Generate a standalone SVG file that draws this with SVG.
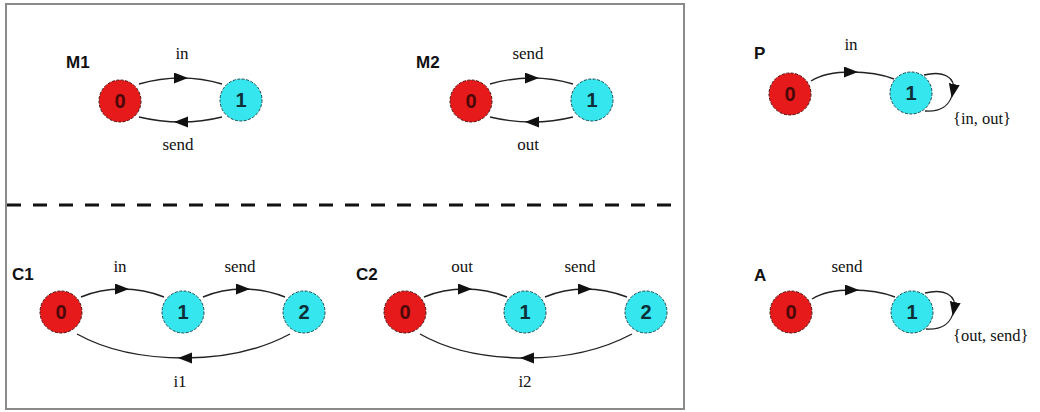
<svg xmlns="http://www.w3.org/2000/svg" width="1040" height="412" viewBox="0 0 1040 412">
  <defs>
    <marker id="arrow" markerUnits="userSpaceOnUse" markerWidth="15" markerHeight="12" refX="7" refY="5.5" orient="auto">
      <path d="M0,0 L14,5.5 L0,11 z" fill="#111"/>
    </marker>
  </defs>
  <style>
    .frame { fill: none; stroke: #8a8a8a; stroke-width: 2; }
    .divider { stroke: #111; stroke-width: 3; stroke-dasharray: 14 12; }
    .edge { fill: none; stroke: #222; stroke-width: 1.4; marker-mid: url(#arrow); }
    .s0 { fill: #e61a1a; stroke: #4a1010; stroke-width: 1; stroke-dasharray: 3 1.5; }
    .s1 { fill: #35e6ee; stroke: #1a4a50; stroke-width: 1; stroke-dasharray: 3 1.5; }
    .n0 { font-family: "Liberation Sans", Arial, sans-serif; font-weight: bold; font-size: 20px; fill: #4a0808; text-anchor: middle; }
    .n1 { font-family: "Liberation Sans", Arial, sans-serif; font-weight: bold; font-size: 20px; fill: #0c3038; text-anchor: middle; }
    .title { font-family: "Liberation Sans", Arial, sans-serif; font-weight: bold; font-size: 17px; fill: #111; }
    .lbl { font-family: "Liberation Serif", "Times New Roman", serif; font-size: 17px; fill: #111; text-anchor: middle; }
    .lbls { font-family: "Liberation Serif", "Times New Roman", serif; font-size: 16.5px; fill: #111; }
  </style>

  <rect width="1040" height="412" fill="#ffffff"/>

  <!-- framed panel and dashed separator -->
  <rect class="frame" x="6" y="4" width="678" height="405"/>
  <line class="divider" x1="7" y1="205" x2="682" y2="205"/>

  <!-- transitions -->
  <g id="connectors">
    <!-- M1 -->
    <path class="edge" d="M139,84 Q160,78 181,78 Q202,78 222,84"/>
    <path class="edge" d="M222,117 Q202,122 181,122 Q160,122 139,117"/>
    <!-- M2 -->
    <path class="edge" d="M490,84 Q511,78 532,78 Q553,78 573,84"/>
    <path class="edge" d="M573,117 Q553,122 532,122 Q511,122 490,117"/>
    <!-- P -->
    <path class="edge" d="M811,81 Q825,72 851,72 Q876,72 894,79"/>
    <path class="edge" d="M924,75 C944,70 956,78 953,91 C951,105 941,112 925,111"/>
    <!-- A -->
    <path class="edge" d="M812,299 Q826,290 852,290 Q877,290 895,297"/>
    <path class="edge" d="M925,293 C945,288 957,296 954,309 C952,323 942,330 926,329"/>
    <!-- C1 -->
    <path class="edge" d="M81,297 Q100,289 122,289 Q144,289 164,297"/>
    <path class="edge" d="M203,297 Q222,289 243,289 Q264,289 285,297"/>
    <path class="edge" d="M290,334 Q245,358 185,358 Q120,358 77,334"/>
    <!-- C2 -->
    <path class="edge" d="M424,297 Q443,289 465,289 Q487,289 507,297"/>
    <path class="edge" d="M545,297 Q564,289 585,289 Q606,289 627,297"/>
    <path class="edge" d="M632,334 Q587,358 527,358 Q462,358 420,334"/>
  </g>

  <!-- machine M1 -->
  <g id="M1">
    <text class="title" x="66" y="68">M1</text>
    <text class="lbl" x="182" y="59">in</text>
    <text class="lbl" x="178" y="150">send</text>
  </g>
  <g id="M1-s0"><circle class="s0" cx="120" cy="101" r="21"/><text class="n0" x="120" y="108">0</text></g>
  <g id="M1-s1"><circle class="s1" cx="241" cy="100" r="21"/><text class="n1" x="241" y="107">1</text></g>

  <!-- machine M2 -->
  <g id="M2">
    <text class="title" x="416" y="68">M2</text>
    <text class="lbl" x="528" y="59">send</text>
    <text class="lbl" x="528" y="150">out</text>
  </g>
  <g id="M2-s0"><circle class="s0" cx="471" cy="101" r="21"/><text class="n0" x="471" y="108">0</text></g>
  <g id="M2-s1"><circle class="s1" cx="592" cy="100" r="21"/><text class="n1" x="592" y="107">1</text></g>

  <!-- property P -->
  <g id="P">
    <text class="title" x="754" y="59">P</text>
    <text class="lbl" x="851" y="50">in</text>
    <text class="lbls" x="953" y="124">{in, out}</text>
  </g>
  <g id="P-s0"><circle class="s0" cx="790" cy="94" r="21"/><text class="n0" x="790" y="101">0</text></g>
  <g id="P-s1"><circle class="s1" cx="911" cy="93" r="21"/><text class="n1" x="911" y="100">1</text></g>

  <!-- property A -->
  <g id="A">
    <text class="title" x="754" y="281">A</text>
    <text class="lbl" x="847" y="272">send</text>
    <text class="lbls" x="953" y="341">{out, send}</text>
  </g>
  <g id="A-s0"><circle class="s0" cx="791" cy="312" r="21"/><text class="n0" x="791" y="319">0</text></g>
  <g id="A-s1"><circle class="s1" cx="912" cy="312" r="21"/><text class="n1" x="912" y="319">1</text></g>

  <!-- component C1 -->
  <g id="C1">
    <text class="title" x="12" y="280">C1</text>
    <text class="lbl" x="120" y="272">in</text>
    <text class="lbl" x="240" y="272">send</text>
    <text class="lbl" x="180" y="387">i1</text>
  </g>
  <g id="C1-s0"><circle class="s0" cx="61" cy="312" r="21"/><text class="n0" x="61" y="319">0</text></g>
  <g id="C1-s1"><circle class="s1" cx="183" cy="312" r="21"/><text class="n1" x="183" y="319">1</text></g>
  <g id="C1-s2"><circle class="s1" cx="304" cy="312" r="21"/><text class="n1" x="304" y="319">2</text></g>

  <!-- component C2 -->
  <g id="C2">
    <text class="title" x="356" y="280">C2</text>
    <text class="lbl" x="462" y="272">out</text>
    <text class="lbl" x="580" y="272">send</text>
    <text class="lbl" x="525" y="387">i2</text>
  </g>
  <g id="C2-s0"><circle class="s0" cx="405" cy="312" r="21"/><text class="n0" x="405" y="319">0</text></g>
  <g id="C2-s1"><circle class="s1" cx="525" cy="312" r="21"/><text class="n1" x="525" y="319">1</text></g>
  <g id="C2-s2"><circle class="s1" cx="646" cy="312" r="21"/><text class="n1" x="646" y="319">2</text></g>
</svg>
